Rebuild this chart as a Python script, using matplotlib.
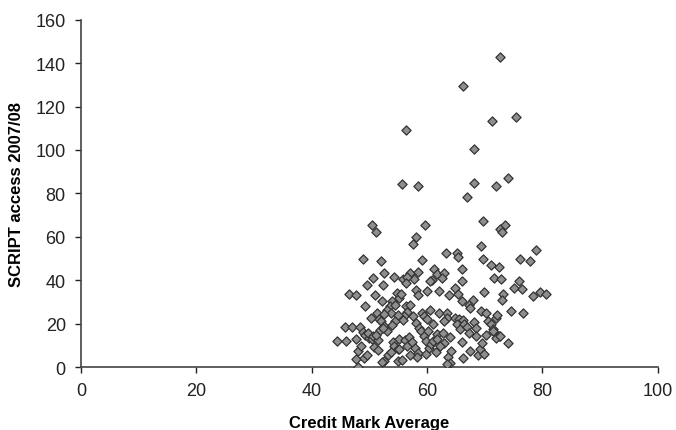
import matplotlib.pyplot as plt
import numpy as np

# values (credit mark average, SCRIPT accesses)
credit_mark = [
    72.7, 66.3, 56.3, 71.3, 75.5, 68.1, 55.7, 58.5, 68.1, 74.0, 71.9, 67.0,
    69.7, 50.4, 51.2, 59.6, 58.1, 57.6, 73.5, 72.6, 73.0, 69.3, 78.8,
    48.9, 52.0, 59.2, 63.2, 65.1, 65.4, 69.7, 71.0, 72.5, 76.1, 77.9, 66.1,
    61.2, 61.8, 63.0, 57.1, 58.4, 54.3, 55.8, 50.7, 52.5, 57.7, 71.6, 72.8,
    75.9, 66.1, 60.8, 56.5, 62.5,
    46.4, 47.7, 49.6, 51.0, 52.3, 54.8, 55.1, 58.1, 58.4, 59.9, 62.1, 63.8,
    64.8, 65.3, 69.9, 73.1, 73.0, 75.1, 76.4, 78.4, 79.6, 80.6, 67.9, 66.1,
    55.5, 60.5, 56.3, 54.0, 53.5,
    67.2, 67.5, 69.3, 70.2, 74.5, 76.6, 71.9, 72.2, 49.2, 52.2, 53.0, 53.8,
    54.5, 56.4, 56.6, 57.1, 59.2, 59.4, 56.0, 55.8, 57.5, 51.3, 51.7, 50.3,
    52.6, 52.0, 52.5, 62.1, 63.4, 63.4, 62.9, 64.9, 65.5, 66.2, 65.1, 65.7,
    66.4, 66.9, 68.1, 68.5, 70.5, 71.0, 71.4, 71.8, 72.5, 71.5, 74.0, 60.0,
    61.0, 58.0, 54.5, 53.0, 54.0, 55.0, 60.5,
    44.4, 46.0, 45.7, 47.0, 48.3, 47.7, 48.8, 49.3, 49.9, 49.8, 50.4, 50.6,
    51.5, 51.1, 51.9, 52.3, 54.1, 54.3, 54.9, 53.3, 52.5, 53.8, 55.1, 55.0,
    55.6, 55.2, 56.1, 56.6, 56.8, 57.3, 57.9, 58.4, 58.3, 58.6, 59.0, 59.4,
    59.8, 60.2, 59.8, 60.3, 60.6, 61.1, 61.7, 61.8, 62.8, 63.7, 64.0, 64.2,
    63.9, 63.0, 66.1, 66.2, 67.4, 68.9, 69.2, 69.6, 71.9, 72.6, 70.2, 68.5,
    67.3,
    48.1, 47.6, 49.0, 49.5, 48.1, 48.5, 52.1, 63.4, 50.8, 51.5, 57.0, 61.5,
    62.2, 69.8,
]
script_access = [
    142.8, 129.6, 109.3, 113.4, 115.1, 100.4, 84.2, 83.2, 85.0, 87.3, 83.2, 78.4,
    67.3, 65.5, 62.2, 65.3, 59.8, 56.9, 65.3, 63.8, 62.1, 55.6, 54.0,
    50.0, 49.0, 49.3, 52.6, 52.7, 50.7, 49.8, 46.9, 46.1, 49.6, 49.0, 45.3,
    45.3, 43.0, 43.2, 43.2, 43.8, 41.5, 40.7, 41.0, 43.2, 40.7, 40.9, 40.7,
    39.7, 39.5, 40.0, 41.5, 41.0,
    33.8, 33.2, 37.7, 33.0, 37.8, 34.0, 31.8, 35.5, 33.0, 34.9, 34.9, 33.4,
    36.6, 33.8, 34.7, 33.5, 30.7, 36.4, 36.1, 32.9, 34.6, 33.7, 30.7, 30.4,
    33.5, 39.5, 38.8, 30.5, 28.0,
    28.6, 27.1, 25.8, 24.7, 26.0, 24.7, 22.7, 23.8, 28.0, 30.4, 26.5, 25.0,
    28.7, 28.1, 25.4, 28.4, 25.0, 23.5, 23.5, 21.7, 23.5, 24.7, 22.3, 22.4,
    24.3, 21.2, 18.9, 25.0, 25.0, 22.7, 21.2, 22.7, 22.3, 21.5, 19.7, 17.7,
    19.7, 18.4, 20.7, 18.1, 21.3, 19.8, 17.5, 15.7, 14.2, 16.5, 11.2, 22.0,
    20.0, 20.5, 21.0, 16.5, 19.5, 24.0, 26.5,
    11.8, 11.8, 18.6, 18.6, 18.6, 12.8, 16.3, 14.6, 13.5, 15.8, 12.8, 14.5,
    12.4, 14.6, 16.9, 18.2, 11.7, 9.7, 8.1, 5.4, 2.8, 6.8, 8.1, 2.8,
    3.1, 13.0, 12.5, 9.5, 14.0, 11.5, 8.8, 6.6, 4.6, 18.0, 16.5, 14.2,
    11.8, 16.7, 6.0, 8.6, 10.5, 12.1, 15.2, 13.0, 15.8, 4.8, 2.0, 7.2,
    14.0, 11.3, 11.5, 4.3, 7.4, 5.4, 8.1, 11.2, 13.2, 14.3, 15.0, 14.3,
    15.5,
    0.0, 3.5, 4.3, 5.4, 7.4, 9.7, 2.3, 1.5, 9.2, 8.0, 5.5, 6.8,
    9.5, 6.0,
]

x_ticks = [0, 20, 40, 60, 80, 100]
y_ticks = [0, 20, 40, 60, 80, 100, 120, 140, 160]

plt.rcParams['font.family'] = ['Liberation Sans', 'DejaVu Sans']

fig = plt.figure(figsize=(6.76, 4.31), dpi=100)
ax = fig.add_axes([0.12, 0.146, 0.853, 0.806])

ax.scatter(credit_mark, script_access, marker='D', s=22,
           facecolor='#8e8e8e', edgecolor='#333333', linewidth=0.9, zorder=3)

ax.set_xlim(0, 100)
ax.set_ylim(0, 160)
ax.set_xticks(x_ticks)
ax.set_yticks(y_ticks)
ax.tick_params(direction='out', length=4, width=1, labelsize=13, pad=7, colors='#222222')
for side in ['top', 'right']:
    ax.spines[side].set_visible(False)
for side in ['left', 'bottom']:
    ax.spines[side].set_linewidth(1.2)
    ax.spines[side].set_color('#444444')
ax.spines['bottom'].set_clip_on(False)

ax.set_xlabel('Credit Mark Average', fontsize=12, fontweight='heavy', labelpad=11)
ax.set_ylabel('SCRIPT access 2007/08', fontsize=12, fontweight='heavy', labelpad=8)

plt.savefig('out.png', dpi=100)
